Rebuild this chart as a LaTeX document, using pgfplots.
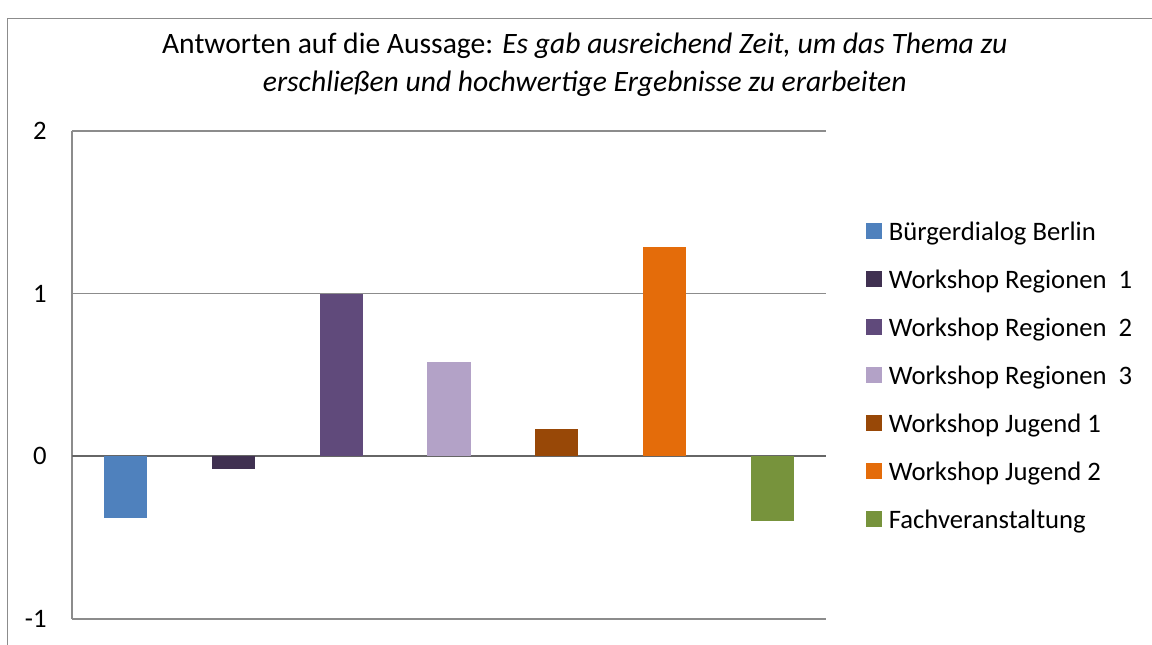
\documentclass[border=0pt]{standalone}
\usepackage{pgfplots}
\pgfplotsset{compat=1.18}
\usepackage{fontspec}
\setmainfont{Carlito}
\definecolor{cBlue}{HTML}{4F81BD}
\definecolor{cDark}{HTML}{403151}
\definecolor{cPurple}{HTML}{604A7B}
\definecolor{cLight}{HTML}{B3A2C7}
\definecolor{cBrown}{HTML}{984807}
\definecolor{cOrange}{HTML}{E46C0A}
\definecolor{cGreen}{HTML}{77933C}
\definecolor{cGrid}{HTML}{8C8C8C}
\begin{document}
\begin{tikzpicture}
\useasboundingbox (0pt,0pt) rectangle (864pt,-483pt);
\fill[white] (0pt,0pt) rectangle (864pt,-483pt);
\draw[cGrid, line width=1.4pt] (5.6pt,-520pt) -- (5.6pt,-13.9pt) -- (900pt,-13.9pt);
\begin{axis}[
  at={(54pt,-464.25pt)}, anchor=south west,
  scale only axis, width=565.5pt, height=366pt,
  xmin=-0.5, xmax=6.5, ymin=-1, ymax=2,
  hide x axis,
  axis y line*=left,
  y axis line style={cGrid, line width=0.8pt},
  ytick={-1,0,1,2},
  major tick length=0pt,
  ymajorgrids,
  grid style={cGrid, line width=0.8pt},
  extra y ticks={0},
  extra y tick labels={},
  extra y tick style={grid style={gray!80!black, line width=1.4pt}},
  yticklabel style={font=\fontsize{20}{24}\selectfont, xshift=-15.5pt},
  /pgf/number format/assume math mode=true,
  bar width=32.3pt,
  legend style={draw=none, fill=none, at={(1.053,0.815)}, anchor=north west,
    font=\fontsize{20}{24}\selectfont, inner sep=0pt, row sep=17.5pt,
    nodes={inner sep=0pt, text height=14pt, text depth=4.5pt},
    /tikz/every odd column/.append style={column sep=5pt}},
  legend cell align=left,
  legend image code/.code={\fill[#1] (0pt,-3.8pt) rectangle (12pt,8.2pt);},
  title={Antworten auf die Aussage: \textit{Es gab ausreichend Zeit, um das Thema zu}\\\textit{erschließen und hochwertige Ergebnisse zu erarbeiten}},
  title style={align=center, font=\fontsize{22.2}{28.5}\selectfont, at={(0.68,1)}, anchor=south, yshift=16pt},
]
\addplot[ybar, bar shift=0pt, fill=cBlue, draw=none] coordinates {(0,-0.38)};
\addlegendentry{Bürgerdialog Berlin}
\addplot[ybar, bar shift=0pt, fill=cDark, draw=none] coordinates {(1,-0.08)};
\addlegendentry{Workshop Regionen\ \ 1}
\addplot[ybar, bar shift=0pt, fill=cPurple, draw=none] coordinates {(2,1.0)};
\addlegendentry{Workshop Regionen\ \ 2}
\addplot[ybar, bar shift=0pt, fill=cLight, draw=none] coordinates {(3,0.58)};
\addlegendentry{Workshop Regionen\ \ 3}
\addplot[ybar, bar shift=0pt, fill=cBrown, draw=none] coordinates {(4,0.17)};
\addlegendentry{Workshop Jugend 1}
\addplot[ybar, bar shift=0pt, fill=cOrange, draw=none] coordinates {(5,1.29)};
\addlegendentry{Workshop Jugend 2}
\addplot[ybar, bar shift=0pt, fill=cGreen, draw=none] coordinates {(6,-0.40)};
\addlegendentry{Fachveranstaltung}
\end{axis}
\end{tikzpicture}
\end{document}
